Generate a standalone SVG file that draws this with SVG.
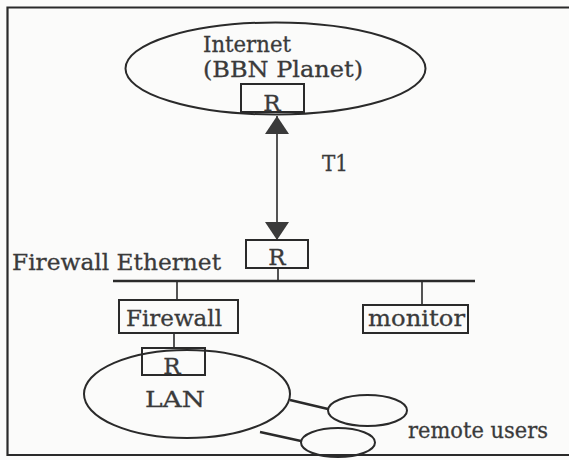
<svg xmlns="http://www.w3.org/2000/svg" width="569" height="460" viewBox="0 0 569 460">
  <style>
    .bg { fill: #fbfbfa; }
    .frame { fill: none; stroke: #2a2a2a; stroke-width: 2.2; }
    .shape { fill: none; stroke: #2a2a2a; stroke-width: 2; }
    .wire { fill: none; stroke: #2a2a2a; stroke-width: 1.6; }
    .bus { fill: none; stroke: #2a2a2a; stroke-width: 2.4; }
    .lbl { font-family: "DejaVu Serif", "Liberation Serif", serif; font-size: 22px; fill: #3a3a3a; stroke: #3a3a3a; stroke-width: 0.3; }
    .big { font-size: 23px; }
    .mid { text-anchor: middle; }
  </style>
  <defs>
    <marker id="tri" viewBox="0 0 18 24" refX="18" refY="12" markerWidth="18" markerHeight="24" markerUnits="userSpaceOnUse" orient="auto-start-reverse">
      <path d="M0,0 L18,12 L0,24 z" fill="#3a3a3a"/>
    </marker>
  </defs>
  <rect class="bg" x="0" y="0" width="569" height="460"/>
  <g id="frame">
    <path class="frame" d="M569,7.5 L7.5,7.5 L7.5,455 L569,455"/>
  </g>
  <g id="connectors">
    <line class="wire" x1="277" y1="240" x2="277" y2="116" marker-start="url(#tri)" marker-end="url(#tri)"/>
    <line class="bus" x1="113" y1="281" x2="475" y2="281"/>
    <line class="wire" x1="278" y1="268" x2="278" y2="281"/>
    <line class="wire" x1="177" y1="281" x2="177" y2="300"/>
    <line class="wire" x1="422" y1="281" x2="422" y2="305"/>
    <line class="wire" x1="174" y1="333" x2="174" y2="348"/>
    <line class="bus" x1="290" y1="400" x2="328" y2="409"/>
    <line class="bus" x1="260" y1="432" x2="301" y2="441"/>
  </g>
  <g id="internet">
    <ellipse class="shape" cx="275.5" cy="68.5" rx="150" ry="46"/>
    <text class="lbl" x="203" y="52" textLength="88" lengthAdjust="spacingAndGlyphs">Internet</text>
    <text class="lbl" x="203" y="77" textLength="160" lengthAdjust="spacingAndGlyphs">(BBN Planet)</text>
  </g>
  <g id="router-internet">
    <rect class="shape" x="241" y="84" width="63" height="28"/>
    <text class="lbl big mid" x="272" y="111">R</text>
  </g>
  <g id="t1-label">
    <text class="lbl" x="322" y="171" textLength="26" lengthAdjust="spacingAndGlyphs">T1</text>
  </g>
  <g id="router-firewall">
    <rect class="shape" x="246" y="240" width="62" height="28"/>
    <text class="lbl big mid" x="277" y="265">R</text>
  </g>
  <g id="firewall-ethernet">
    <text class="lbl big" x="12" y="270" textLength="209" lengthAdjust="spacingAndGlyphs">Firewall Ethernet</text>
  </g>
  <g id="firewall">
    <rect class="shape" x="119" y="300" width="119" height="33"/>
    <text class="lbl big" x="126" y="326" textLength="96" lengthAdjust="spacingAndGlyphs">Firewall</text>
  </g>
  <g id="monitor">
    <rect class="shape" x="363" y="305" width="105" height="28"/>
    <text class="lbl big" x="368" y="326" textLength="97" lengthAdjust="spacingAndGlyphs">monitor</text>
  </g>
  <g id="lan">
    <ellipse class="shape" cx="187" cy="394" rx="103" ry="44"/>
    <text class="lbl big" x="145" y="407" textLength="60" lengthAdjust="spacingAndGlyphs">LAN</text>
  </g>
  <g id="router-lan">
    <rect class="shape" x="142" y="348" width="63" height="27"/>
    <text class="lbl big mid" x="172" y="374">R</text>
  </g>
  <g id="remote-user-1">
    <ellipse class="shape" cx="367.5" cy="410.5" rx="39.5" ry="15.5"/>
  </g>
  <g id="remote-user-2">
    <ellipse class="shape" cx="338" cy="442.5" rx="37" ry="14.5"/>
  </g>
  <g id="remote-users-label">
    <text class="lbl big" x="408" y="438" textLength="140" lengthAdjust="spacingAndGlyphs">remote users</text>
  </g>
</svg>
